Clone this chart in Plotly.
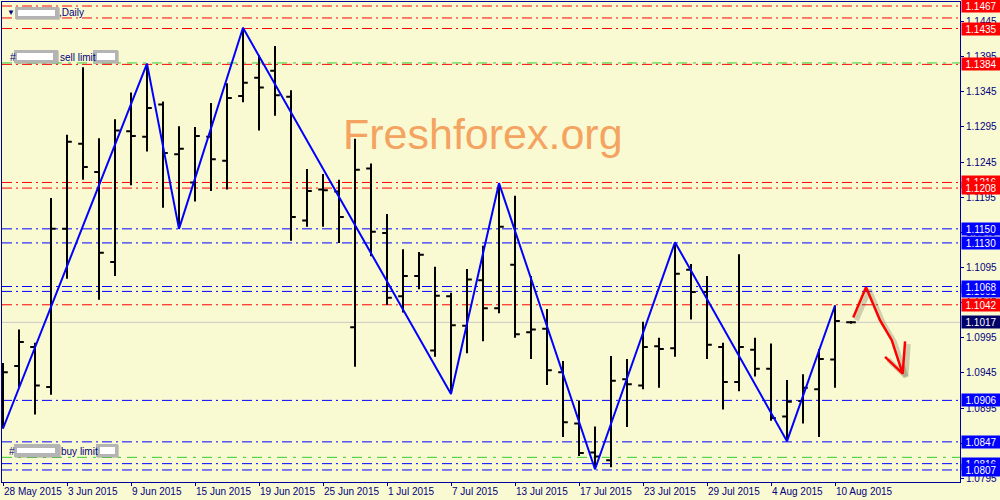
import plotly.graph_objects as go

# ---------------- data ----------------
dates = ["2015-05-28", "2015-05-29", "2015-06-01", "2015-06-02", "2015-06-03", "2015-06-04",
         "2015-06-05", "2015-06-08", "2015-06-09", "2015-06-10", "2015-06-11", "2015-06-12",
         "2015-06-15", "2015-06-16", "2015-06-17", "2015-06-18", "2015-06-19", "2015-06-22",
         "2015-06-23", "2015-06-24", "2015-06-25", "2015-06-26", "2015-06-29", "2015-06-30",
         "2015-07-01", "2015-07-02", "2015-07-03", "2015-07-06", "2015-07-07", "2015-07-08",
         "2015-07-09", "2015-07-10", "2015-07-13", "2015-07-14", "2015-07-15", "2015-07-16",
         "2015-07-17", "2015-07-20", "2015-07-21", "2015-07-22", "2015-07-23", "2015-07-24",
         "2015-07-27", "2015-07-28", "2015-07-29", "2015-07-30", "2015-07-31", "2015-08-03",
         "2015-08-04", "2015-08-05", "2015-08-06", "2015-08-07", "2015-08-10", "2015-08-11"]

opens = [1.0902, 1.0955, 1.0982, 1.0925, 1.1150, 1.1271, 1.1231, 1.1103, 1.1289, 1.1281,
         1.1327, 1.1256, 1.1216, 1.1281, 1.1247, 1.1339, 1.1365, 1.1375, 1.1338, 1.1162,
         1.1206, 1.1203, 1.1010, 1.1236, 1.1144, 1.1054, 1.1083, 1.0977, 1.1054, 1.1012,
         1.1077, 1.1037, 1.1099, 1.1003, 1.1008, 1.0946, 1.0873, 1.0832, 1.0821, 1.0936,
         1.0927, 1.0983, 1.0980, 1.1092, 1.1060, 1.0982, 1.0932, 1.0978, 1.0951, 1.0883,
         1.0905, 1.0922, 1.0964, 1.1017]
highs = [1.0959, 1.1007, 1.0988, 1.1194, 1.1284, 1.1380, 1.1279, 1.1306, 1.1344, 1.1385,
         1.1331, 1.1296, 1.1295, 1.1329, 1.1357, 1.1436, 1.1397, 1.1410, 1.1347, 1.1235,
         1.1228, 1.1220, 1.1278, 1.1243, 1.1171, 1.1121, 1.1117, 1.1096, 1.1059, 1.1093,
         1.1126, 1.1215, 1.1197, 1.1083, 1.1036, 1.0962, 1.0906, 1.0869, 1.0969, 1.0965,
         1.1018, 1.0995, 1.1131, 1.1100, 1.1083, 1.0988, 1.1114, 1.0995, 1.0987, 1.0935,
         1.0943, 1.0979, 1.1041, 1.1019]
lows = [1.0866, 1.0925, 1.0886, 1.0914, 1.1079, 1.1220, 1.1049, 1.1083, 1.1212, 1.1260,
        1.1180, 1.1150, 1.1189, 1.1204, 1.1206, 1.1330, 1.1290, 1.1311, 1.1133, 1.1153,
        1.1153, 1.1130, 1.0954, 1.1111, 1.1042, 1.1031, 1.1064, 1.0968, 1.0915, 1.0973,
        1.0990, 1.1030, 1.0995, 1.0965, 1.0928, 1.0854, 1.0827, 1.0808, 1.0811, 1.0868,
        1.0922, 1.0924, 1.0968, 1.1021, 1.0965, 1.0893, 1.0919, 1.0940, 1.0877, 1.0848,
        1.0873, 1.0854, 1.0924, 1.1015]
closes = [1.0946, 1.0989, 1.0927, 1.1150, 1.1274, 1.1238, 1.1116, 1.1290, 1.1282, 1.1322,
          1.1258, 1.1264, 1.1282, 1.1249, 1.1336, 1.1358, 1.1351, 1.1340, 1.1167, 1.1204,
          1.1205, 1.1167, 1.1234, 1.1146, 1.1052, 1.1083, 1.1113, 1.1055, 1.1013, 1.1078,
          1.1037, 1.1153, 1.1000, 1.1007, 1.0949, 1.0875, 1.0831, 1.0826, 1.0934, 1.0929,
          1.0982, 1.0979, 1.1086, 1.1060, 1.0985, 1.0932, 1.0982, 1.0951, 1.0881, 1.0904,
          1.0924, 1.0965, 1.1019, 1.1017]

# zigzag pivots: bar index and whether it is a high (H) or low (L)
zigzag_idx = [0, 9, 11, 15, 28, 31, 37, 42, 49, 52]
zigzag_kind = ["L", "H", "L", "H", "L", "H", "L", "H", "L", "H"]

red_levels = [1.1467, 1.1450, 1.1435, 1.1384, 1.1216, 1.1208, 1.1042]
blue_levels = [1.1150, 1.1130, 1.1068, 1.1061, 1.0906, 1.0847, 1.0816, 1.0807]
green_levels = [1.1386, 1.0825]
bid_level = 1.1017

# price labels on the right scale (drawn in this order)
label_values = [1.1467, 1.1435, 1.1384, 1.1216, 1.1208, 1.1150, 1.1130, 1.1061, 1.1068,
                1.1042, 1.1017, 1.0906, 1.0847, 1.0816, 1.0807]
label_kinds = ["red", "red", "red", "red", "red", "blue", "blue", "blue", "blue",
               "red", "bid", "blue", "blue", "blue", "blue"]

y_ticks = [1.0795, 1.0845, 1.0895, 1.0945, 1.0995, 1.1045, 1.1095, 1.1145, 1.1195,
           1.1245, 1.1295, 1.1345, 1.1395, 1.1445]

# hand-drawn forecast arrow (bar position, price)
arrow_x = [53.14, 53.94, 54.81, 55.54, 56.23, None, 55.13, 56.23, 56.38]
arrow_y = [1.1024, 1.1067, 1.1020, 1.0992, 1.0944, None, 1.0968, 1.0944, 1.0990]

# ---------------- style ----------------
BG = "#FAFAD2"
NAVY = "#000080"
FONT = "Liberation Sans"
COLORS = {"red": "#FF0000", "blue": "#0000FF", "bid": "#000066"}

MONTHS = ["Jan", "Feb", "Mar", "Apr", "May", "Jun", "Jul", "Aug", "Sep", "Oct", "Nov", "Dec"]


def fmt_date(s):
    y, m, d = s.split("-")
    return f"{int(d)} {MONTHS[int(m) - 1]} {y}"


bar_x = list(range(len(dates)))
tick_vals = bar_x[::4]
tick_text = [fmt_date(dates[i]) for i in tick_vals]

zz_x = zigzag_idx
zz_y = [highs[i] if k == "H" else lows[i] for i, k in zip(zigzag_idx, zigzag_kind)]

fig = go.Figure()

fig.add_trace(go.Ohlc(
    x=bar_x, open=opens, high=highs, low=lows, close=closes,
    increasing=dict(line=dict(color="black", width=2)),
    decreasing=dict(line=dict(color="black", width=2)),
    tickwidth=0.3, showlegend=False, hoverinfo="skip",
))

fig.add_trace(go.Scatter(
    x=zz_x, y=zz_y, mode="lines", line=dict(color="#0000FF", width=2),
    showlegend=False, hoverinfo="skip",
))

# arrow shadow + arrow
fig.add_trace(go.Scatter(
    x=[v + 0.2 if v is not None else None for v in arrow_x],
    y=[v - 0.0004 if v is not None else None for v in arrow_y],
    mode="lines", line=dict(color="rgba(80,80,60,0.25)", width=5),
    showlegend=False, hoverinfo="skip",
))
fig.add_trace(go.Scatter(
    x=arrow_x, y=arrow_y, mode="lines", line=dict(color="#FF0000", width=2.5),
    showlegend=False, hoverinfo="skip",
))

shapes = []
for lv in red_levels:
    shapes.append(dict(type="line", xref="paper", x0=0, x1=1, yref="y", y0=lv, y1=lv,
                       line=dict(color="#FF0000", width=1, dash="10px,4px,2px,4px"), layer="below"))
for lv in blue_levels:
    shapes.append(dict(type="line", xref="paper", x0=0, x1=1, yref="y", y0=lv, y1=lv,
                       line=dict(color="#0000FF", width=1, dash="10px,4px,2px,4px"), layer="below"))
for lv in green_levels:
    shapes.append(dict(type="line", xref="paper", x0=0, x1=1, yref="y", y0=lv, y1=lv,
                       line=dict(color="#32CD32", width=1, dash="10px,6px,3px,6px"), layer="below"))
shapes.append(dict(type="line", xref="paper", x0=0, x1=1, yref="y", y0=bid_level, y1=bid_level,
                   line=dict(color="#C8C8C8", width=1), layer="below"))


# helpers for pixel-placed decorations (plot area: x 2..960, y 2..482)
def px(xp):
    return (xp - 2) / 958


def py(yp):
    return (482 - yp) / 480


def blur_box(x0, y0, x1, y1, ix0, iy0, ix1, iy1):
    shapes.append(dict(type="rect", xref="paper", yref="paper", x0=px(x0 + 1), x1=px(x1 + 1),
                       y0=py(y1 + 1), y1=py(y0 + 1), fillcolor="rgba(120,120,120,0.35)",
                       line=dict(width=0), layer="above"))
    shapes.append(dict(type="rect", xref="paper", yref="paper", x0=px(x0), x1=px(x1),
                       y0=py(y1), y1=py(y0), fillcolor="#B4B4B4", line=dict(width=0), layer="above"))
    shapes.append(dict(type="rect", xref="paper", yref="paper", x0=px(ix0), x1=px(ix1),
                       y0=py(iy1), y1=py(iy0), fillcolor="#FFFFFF", line=dict(width=0), layer="above"))


blur_box(15, 7, 59, 19, 18, 10, 55, 16)
blur_box(14, 50, 58, 63, 17, 53, 53, 60)
blur_box(93, 50, 118, 63, 97, 53, 115, 60)
blur_box(14, 444, 60, 457, 17, 448, 55, 453)
blur_box(96, 444, 118, 457, 100, 447, 115, 454)

annotations = []


def txt(text, xp, yp, size=10, color=NAVY):
    annotations.append(dict(text=text, xref="paper", yref="paper", x=px(xp), y=py(yp),
                            xanchor="left", yanchor="middle", showarrow=False,
                            font=dict(family=FONT, size=size, color=color)))


txt("▼", 5, 12, size=8)
txt(",Daily", 57, 12)
txt("#", 8, 57)
txt("sell limit", 58, 57)
txt("#", 7, 451)
txt("buy limit", 59, 451)

# watermark
annotations.append(dict(text="Freshforex.org", xref="paper", yref="paper", x=px(482.5), y=py(134),
                        xanchor="center", yanchor="middle", showarrow=False,
                        font=dict(family=FONT, size=43, color="#F4A460")))

# right-hand price boxes
for val, kind in zip(label_values, label_kinds):
    annotations.append(dict(text=f"{val:.4f}", xref="paper", yref="y", x=1, y=val,
                            xanchor="left", yanchor="middle", xshift=1, showarrow=False,
                            bgcolor=COLORS[kind], width=38, height=12, borderpad=0,
                            align="center", font=dict(family=FONT, size=10, color="white")))

fig.update_layout(
    width=1000, height=500,
    margin=dict(l=2, r=40, t=2, b=18, autoexpand=False),
    paper_bgcolor=BG, plot_bgcolor=BG,
    font=dict(family=FONT, size=10, color=NAVY),
    shapes=shapes, annotations=annotations,
    showlegend=False,
)
fig.update_xaxes(
    range=[-0.0625, 59.8125], showgrid=False, zeroline=False, automargin=False,
    rangeslider=dict(visible=False),
    tickmode="array", tickvals=tick_vals, ticktext=tick_text, tickangle=0,
    ticks="outside", ticklen=3, tickcolor=NAVY,
    ticklabelposition="outside right",
    showline=True, mirror=True, linecolor="#0000A0", linewidth=1,
    tickfont=dict(family=FONT, size=10, color=NAVY),
)
fig.update_yaxes(
    range=[1.07899, 1.14727], side="right", showgrid=False, zeroline=False, automargin=False,
    tickmode="array", tickvals=y_ticks, ticktext=[f"{v:.4f}" for v in y_ticks],
    ticks="outside", ticklen=3, tickcolor=NAVY,
    showline=True, mirror=True, linecolor="#0000A0", linewidth=1,
    tickfont=dict(family=FONT, size=10, color=NAVY),
)

fig.write_html(
    "out.html",
    config={"displayModeBar": False},
    post_script="document.body.style.margin='0';document.body.style.overflow='hidden';"
                "document.body.style.background='" + BG + "';",
)
